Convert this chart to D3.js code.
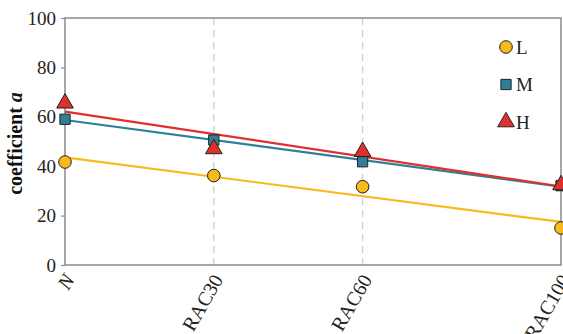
<!DOCTYPE html>
<html><head><meta charset="utf-8">
<script src="https://cdn.jsdelivr.net/npm/d3@7"></script>
<style>body{margin:0;background:#fff}svg{display:block}</style>
</head><body><svg id="c" width="563" height="334"></svg>
<script>
const categories = ["N", "RAC30", "RAC60", "RAC100"];
const replacement = [0, 30, 60, 100];
const seriesNames = ["L", "M", "H"];
const valuesL = [41.7, 36.2, 31.7, 15.0];
const valuesM = [59.0, 50.6, 41.8, 32.1];
const valuesH = [65.5, 47.0, 45.9, 32.4];
const yTicks = [0, 20, 40, 60, 80, 100];
const colors = {L: "#F8B91C", M: "#2E8099", H: "#E0302B"};
const shapes = {L: d3.symbolCircle, M: d3.symbolSquare, H: d3.symbolTriangle};
const symSize = {L: 125, M: 105, H: 120};

const svg = d3.select("#c");
const m = {l: 65, r: 561, t: 18, b: 265};
const x = d3.scaleLinear().domain([0, 100]).range([m.l, m.r]);
const y = d3.scaleLinear().domain([0, 100]).range([m.b, m.t]);
const font = "'Liberation Serif', 'Times New Roman', serif";

// dashed grid lines
svg.selectAll(".grid").data(replacement.slice(1, 3)).enter().append("line")
  .attr("x1", d => x(d)).attr("x2", d => x(d)).attr("y1", m.t).attr("y2", m.b)
  .attr("stroke", "#cfcfcf").attr("stroke-width", 1.3).attr("stroke-dasharray", "7,5");

// frame
svg.append("rect").attr("x", m.l).attr("y", m.t).attr("width", m.r - m.l).attr("height", m.b - m.t)
  .attr("fill", "none").attr("stroke", "#8a8a8a").attr("stroke-width", 1.5);

// y axis
const ya = svg.append("g").attr("transform", `translate(${m.l},0)`)
  .call(d3.axisLeft(y).tickValues(yTicks).tickSize(4).tickPadding(5));
ya.select(".domain").remove();
ya.selectAll("line").attr("stroke", "#8a8a8a").attr("stroke-width", 1.2);
ya.selectAll("text").attr("font-family", font).attr("font-size", 19).attr("fill", "#222");

// x labels
const xl = svg.append("g");
categories.forEach((c, i) => {
  const t = xl.append("text")
    .attr("transform", `translate(${x(replacement[i]) + 4},${m.b + 11}) rotate(-60)`)
    .attr("text-anchor", "end").attr("dy", "0.35em")
    .attr("font-family", font).attr("font-size", 20).attr("fill", "#222")
    .text(c);
  if (c === "N") t.attr("font-style", "italic");
});

// y title
const yt = svg.append("text").attr("transform", `translate(22,${(m.t + m.b) / 2 + 2}) rotate(-90)`)
  .attr("text-anchor", "middle").attr("font-family", font).attr("font-size", 20)
  .attr("font-weight", "bold").attr("fill", "#111");
yt.append("tspan").text("coefficient ");
yt.append("tspan").attr("font-style", "italic").text("a");

const data = {L: valuesL, M: valuesM, H: valuesH};

// regression lines
function fit(xs, ys) {
  const mx = d3.mean(xs), my = d3.mean(ys);
  const sxy = d3.sum(xs, (v, i) => (v - mx) * (ys[i] - my));
  const sxx = d3.sum(xs, v => (v - mx) ** 2);
  const b = sxy / sxx;
  return [my - b * mx, b];
}
seriesNames.forEach(s => {
  const [a, b] = fit(replacement, data[s]);
  svg.append("line")
    .attr("x1", x(0)).attr("y1", y(a)).attr("x2", x(100)).attr("y2", y(a + b * 100))
    .attr("stroke", colors[s]).attr("stroke-width", 2.2);
});

// markers
seriesNames.forEach(s => {
  svg.selectAll(".p" + s).data(data[s]).enter().append("path")
    .attr("d", d3.symbol().type(shapes[s]).size(symSize[s]))
    .attr("transform", (d, i) => `translate(${x(replacement[i])},${y(d)})`)
    .attr("fill", colors[s]).attr("stroke", "#222").attr("stroke-width", 1);
});

// legend
seriesNames.forEach((s, i) => {
  const ly = 47 + i * 37.5;
  svg.append("path").attr("d", d3.symbol().type(shapes[s]).size(symSize[s]))
    .attr("transform", `translate(506,${ly})`)
    .attr("fill", colors[s]).attr("stroke", "#222").attr("stroke-width", 1);
  svg.append("text").attr("x", 516).attr("y", ly).attr("dy", "0.35em")
    .attr("font-family", font).attr("font-size", 19).attr("fill", "#222").text(s);
});
</script></body></html>
